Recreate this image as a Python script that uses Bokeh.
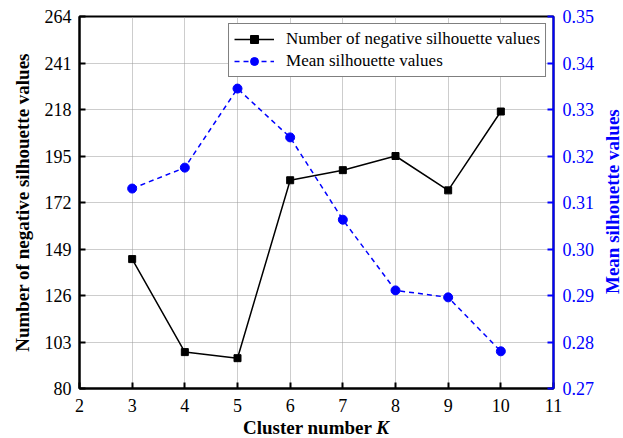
from bokeh.plotting import figure
from bokeh.layouts import column, row
from bokeh.models import (Range1d, LinearAxis, FixedTicker, PrintfTickFormatter,
                          Legend, LegendItem, Div)
from bokeh.embed import file_html
from bokeh.resources import INLINE

# Cluster number K and the two silhouette statistics
k_values = [3, 4, 5, 6, 7, 8, 9, 10]
neg_counts = [144, 98, 95, 183, 188, 195, 178, 217]
mean_sil = [0.313, 0.3175, 0.3345, 0.324, 0.3063, 0.2911, 0.2896, 0.278]

x_ticks = [2, 3, 4, 5, 6, 7, 8, 9, 10, 11]
left_ticks = [80, 103, 126, 149, 172, 195, 218, 241, 264]
right_ticks = [0.27, 0.28, 0.29, 0.30, 0.31, 0.32, 0.33, 0.34, 0.35]

SERIF = "Liberation Serif"
BLUE = "#0000ff"

p = figure(width=600, height=418, x_range=Range1d(2, 11), y_range=Range1d(80, 264),
           output_backend="svg", toolbar_location=None,
           min_border_left=79, min_border_right=47, min_border_top=16, min_border_bottom=30)
p.background_fill_color = "white"
p.border_fill_color = "white"
p.outline_line_color = "black"
p.outline_line_width = 2

# Grid
for g in (p.xgrid, p.ygrid):
    g.grid_line_color = "#9a9a9a"
    g.grid_line_dash = "1 1"
    g.grid_line_width = 1
p.xgrid.ticker = FixedTicker(ticks=x_ticks)
p.ygrid.ticker = FixedTicker(ticks=left_ticks)

# Bottom axis
xa = p.xaxis[0]
xa.ticker = FixedTicker(ticks=x_ticks)
xa.axis_line_color = "black"
xa.axis_line_width = 2
xa.major_tick_in = 6
xa.major_tick_out = 0
xa.major_tick_line_color = "black"
xa.major_tick_line_width = 2
xa.minor_tick_line_color = None
xa.major_label_text_font = SERIF
xa.major_label_text_font_size = "18px"
xa.major_label_text_color = "black"
xa.major_label_standoff = 10

# Left axis
ya = p.yaxis[0]
ya.ticker = FixedTicker(ticks=left_ticks)
ya.axis_line_color = "black"
ya.axis_line_width = 2
ya.major_tick_in = 6
ya.major_tick_out = 0
ya.major_tick_line_color = "black"
ya.major_tick_line_width = 2
ya.minor_tick_line_color = None
ya.major_label_text_font = SERIF
ya.major_label_text_font_size = "18px"
ya.major_label_text_color = "black"
ya.major_label_standoff = 8
ya.axis_label = "Number of negative silhouette values"
ya.axis_label_text_font = SERIF
ya.axis_label_text_font_style = "bold"
ya.axis_label_text_font_size = "19px"
ya.axis_label_text_color = "black"
ya.axis_label_standoff = 9

# Right axis for the mean silhouette
p.extra_y_ranges = {"mean": Range1d(0.27, 0.35)}
ra = LinearAxis(y_range_name="mean", ticker=FixedTicker(ticks=right_ticks),
                formatter=PrintfTickFormatter(format="%.2f"))
ra.axis_line_color = BLUE
ra.axis_line_width = 2
ra.major_tick_line_color = BLUE
ra.major_tick_line_width = 2
ra.major_tick_in = 6
ra.major_tick_out = 0
ra.minor_tick_line_color = None
ra.major_label_text_font = SERIF
ra.major_label_text_font_size = "18px"
ra.major_label_text_color = BLUE
ra.major_label_standoff = 9
p.add_layout(ra, "right")

# Series
l1 = p.line(k_values, neg_counts, line_color="black", line_width=1.5)
m1 = p.scatter(k_values, neg_counts, marker="square", size=7, fill_color="black", line_color="black")
l2 = p.line(k_values, mean_sil, y_range_name="mean", line_color=BLUE, line_width=1.5, line_dash="5 4")
m2 = p.scatter(k_values, mean_sil, y_range_name="mean", marker="circle", size=9,
               fill_color=BLUE, line_color=BLUE)

legend = Legend(items=[
    LegendItem(label="Number of negative silhouette values", renderers=[l1, m1]),
    LegendItem(label="Mean silhouette values", renderers=[l2, m2]),
])
legend.location = "top_right"
legend.margin = 7
legend.padding = 5
legend.spacing = 2
legend.glyph_width = 40
legend.glyph_height = 20
legend.label_height = 20
legend.label_standoff = 12
legend.label_text_font = SERIF
legend.label_text_font_size = "17px"
legend.label_text_color = "black"
legend.border_line_color = "black"
legend.border_line_width = 1.5
legend.background_fill_color = "white"
legend.background_fill_alpha = 1
p.add_layout(legend)

# X axis title with an italic K
x_title = Div(text="<b>Cluster number <i>K</i></b>", width=600, height=20, margin=0,
              styles={"font-family": "'Liberation Serif', serif", "font-size": "19px",
                      "text-align": "center", "text-indent": "32px",
                      "line-height": "20px", "color": "black", "background": "white"})

# Right axis title, reading bottom to top
y2_title = Div(
    text=('<div style="height:372px; margin-top:16px; margin-left:3px; width:20px; '
          'writing-mode:vertical-rl; transform:rotate(180deg); text-align:center; '
          "line-height:20px; font-family:'Liberation Serif', serif; font-size:19px; "
          'font-weight:bold; color:#0000ff; white-space:nowrap;">Mean silhouette values</div>'),
    width=23, height=438, margin=0, styles={"background": "white"})

layout = row(column(p, x_title, spacing=0), y2_title, spacing=0)
open("out.html", "w").write(file_html(layout, INLINE))
